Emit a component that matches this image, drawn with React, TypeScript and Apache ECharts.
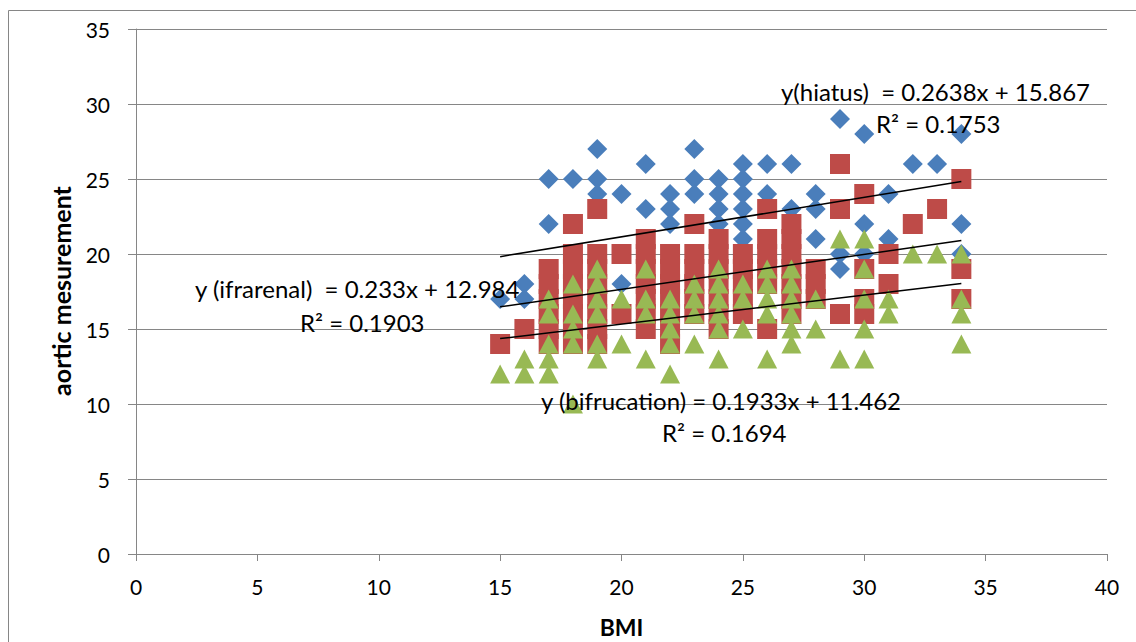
import React, { useEffect, useRef } from "react";
import * as echarts from "echarts";

// BMI vs aortic measurement: [BMI, value]
const hiatusPoints: number[][] = [
  [15, 17], [16, 18], [16, 17], [17, 25], [17, 22], [18, 25],
  [19, 27], [19, 25], [19, 24], [20, 24], [20, 18],
  [21, 26], [21, 23], [21, 17], [22, 24], [22, 23], [22, 22],
  [23, 27], [23, 25], [23, 24], [24, 25], [24, 24], [24, 23], [24, 22],
  [25, 26], [25, 25], [25, 24], [25, 23], [25, 22], [25, 21],
  [26, 26], [26, 24], [27, 26], [27, 23], [28, 24], [28, 23], [28, 21],
  [29, 29], [29, 20], [29, 19], [30, 28], [30, 22], [30, 20],
  [31, 24], [31, 21], [32, 26], [33, 26], [34, 28], [34, 22], [34, 20],
];

const ifrarenalPoints: number[][] = [
  [15, 14], [16, 15],
  [17, 19], [17, 18], [17, 17], [17, 16], [17, 15], [17, 14],
  [18, 22], [18, 20], [18, 19], [18, 18], [18, 17], [18, 16], [18, 15], [18, 14],
  [19, 23], [19, 20], [19, 19], [19, 18], [19, 17], [19, 16], [19, 15], [19, 14],
  [20, 20], [20, 16],
  [21, 21], [21, 20], [21, 19], [21, 18], [21, 17], [21, 16], [21, 15],
  [22, 20], [22, 19], [22, 18], [22, 17], [22, 16], [22, 15], [22, 14],
  [23, 22], [23, 20], [23, 19], [23, 18], [23, 17], [23, 16],
  [24, 21], [24, 20], [24, 19], [24, 18], [24, 17], [24, 16], [24, 15],
  [25, 20], [25, 19], [25, 18], [25, 17], [25, 16],
  [26, 23], [26, 21], [26, 20], [26, 19], [26, 18], [26, 15],
  [27, 22], [27, 21], [27, 20], [27, 19], [27, 18], [27, 17], [27, 16],
  [28, 19], [28, 18], [28, 17],
  [29, 26], [29, 23], [29, 16],
  [30, 24], [30, 19], [30, 17], [30, 16],
  [31, 20], [31, 18], [32, 22], [33, 23],
  [34, 25], [34, 19], [34, 17],
];

const bifurcationPoints: number[][] = [
  [15, 12], [16, 13], [16, 12],
  [17, 17], [17, 16], [17, 14], [17, 13], [17, 12],
  [18, 18], [18, 16], [18, 15], [18, 14], [18, 10],
  [19, 19], [19, 18], [19, 17], [19, 16], [19, 14], [19, 13],
  [20, 17], [20, 14],
  [21, 19], [21, 17], [21, 16], [21, 13],
  [22, 17], [22, 16], [22, 15], [22, 14], [22, 12],
  [23, 18], [23, 17], [23, 16], [23, 14],
  [24, 19], [24, 18], [24, 17], [24, 16], [24, 15], [24, 13],
  [25, 18], [25, 17], [25, 15],
  [26, 19], [26, 18], [26, 17], [26, 16], [26, 13],
  [27, 19], [27, 18], [27, 17], [27, 16], [27, 15], [27, 14],
  [28, 17], [28, 15],
  [29, 21], [29, 13],
  [30, 21], [30, 19], [30, 17], [30, 15], [30, 13],
  [31, 17], [31, 16], [32, 20], [33, 20],
  [34, 20], [34, 17], [34, 16], [34, 14],
];

// Linear trendlines (Excel): slope, intercept, fitted over BMI range
const trendSlopes = [0.2638, 0.233, 0.1933];
const trendIntercepts = [15.867, 12.984, 11.462];
const trendRange = [15, 34];

const equationTexts = [
  "y(hiatus)  = 0.2638x + 15.867",
  "y (ifrarenal)  = 0.233x + 12.984",
  "y (bifrucation) = 0.1933x + 11.462",
];
const r2Texts = ["R² = 0.1753", "R² = 0.1903", "R² = 0.1694"];

const xAxisTitle = "BMI";
const yAxisTitle = "aortic mesurement";

const FONT = "Lato";

export default function App() {
  const ref = useRef<HTMLDivElement>(null);

  useEffect(() => {
    if (!ref.current) return;
    const chart = echarts.init(ref.current, undefined, { renderer: "svg" });

    const trendSeries = trendSlopes.map((m, i) => ({
      type: "line",
      data: trendRange.map((x) => [x, m * x + trendIntercepts[i]]),
      symbol: "none",
      lineStyle: { color: "#000", width: 1.5 },
      z: 5,
      silent: true,
    }));

    const eqStyle = { fill: "#000", font: `24px ${FONT}` };

    chart.setOption({
      animation: false,
      backgroundColor: "#fff",
      grid: { left: 136, top: 29, right: 29, bottom: 88, containLabel: false },
      xAxis: {
        type: "value",
        min: 0,
        max: 40,
        interval: 5,
        axisLine: { show: true, lineStyle: { color: "#868686", width: 1 } },
        axisTick: { show: true, length: 7, lineStyle: { color: "#868686" } },
        axisLabel: { color: "#000", fontSize: 21, fontFamily: FONT, margin: 22 },
        splitLine: { show: false },
      },
      yAxis: {
        type: "value",
        min: 0,
        max: 35,
        interval: 5,
        axisLine: { show: true, onZero: false, lineStyle: { color: "#868686", width: 1 } },
        axisTick: { show: true, length: 8, lineStyle: { color: "#868686" } },
        axisLabel: { color: "#000", fontSize: 21, fontFamily: FONT, margin: 26 },
        splitLine: { show: true, lineStyle: { color: "#868686", width: 1 } },
      },
      series: [
        {
          type: "scatter",
          data: hiatusPoints,
          symbol: "diamond",
          symbolSize: [20, 20],
          itemStyle: { color: "#4A7EBB", opacity: 1 },
          z: 2,
        },
        {
          type: "scatter",
          data: ifrarenalPoints,
          symbol: "rect",
          symbolSize: [20, 20],
          itemStyle: { color: "#BE4B48", opacity: 1 },
          z: 3,
        },
        {
          type: "scatter",
          data: bifurcationPoints,
          symbol: "triangle",
          symbolSize: [20, 19],
          itemStyle: { color: "#98B954", opacity: 1 },
          z: 4,
        },
        ...trendSeries,
      ],
      graphic: [
        {
          type: "rect",
          shape: { x: 8.5, y: 10.5, width: 1200, height: 700 },
          style: { fill: "none", stroke: "#868686", lineWidth: 1 },
          silent: true,
          z: 0,
        },
        { type: "text", x: 781, y: 91, style: { ...eqStyle, text: equationTexts[0], textAlign: "left", textVerticalAlign: "middle" }, z: 10 },
        { type: "text", x: 876, y: 123, style: { ...eqStyle, text: r2Texts[0], textAlign: "left", textVerticalAlign: "middle" }, z: 10 },
        { type: "text", x: 195, y: 288, style: { ...eqStyle, text: equationTexts[1], textAlign: "left", textVerticalAlign: "middle" }, z: 10 },
        { type: "text", x: 300, y: 322, style: { ...eqStyle, text: r2Texts[1], textAlign: "left", textVerticalAlign: "middle" }, z: 10 },
        { type: "text", x: 541, y: 400, style: { ...eqStyle, text: equationTexts[2], textAlign: "left", textVerticalAlign: "middle" }, z: 10 },
        { type: "text", x: 662, y: 432, style: { ...eqStyle, text: r2Texts[2], textAlign: "left", textVerticalAlign: "middle" }, z: 10 },
        {
          type: "text",
          x: 621.5,
          y: 627,
          style: { text: xAxisTitle, fill: "#000", font: `bold 23px ${FONT}`, textAlign: "center", textVerticalAlign: "middle" },
          z: 10,
        },
        {
          type: "text",
          x: 61,
          y: 291,
          rotation: Math.PI / 2,
          style: { text: yAxisTitle, fill: "#000", font: `bold 25px ${FONT}`, textAlign: "center", textVerticalAlign: "middle" },
          z: 10,
        },
      ],
    });

    return () => chart.dispose();
  }, []);

  return (
    <div
      ref={ref}
      style={{ position: "fixed", left: 0, top: 0, width: 1136, height: 642, background: "#fff" }}
    />
  );
}
